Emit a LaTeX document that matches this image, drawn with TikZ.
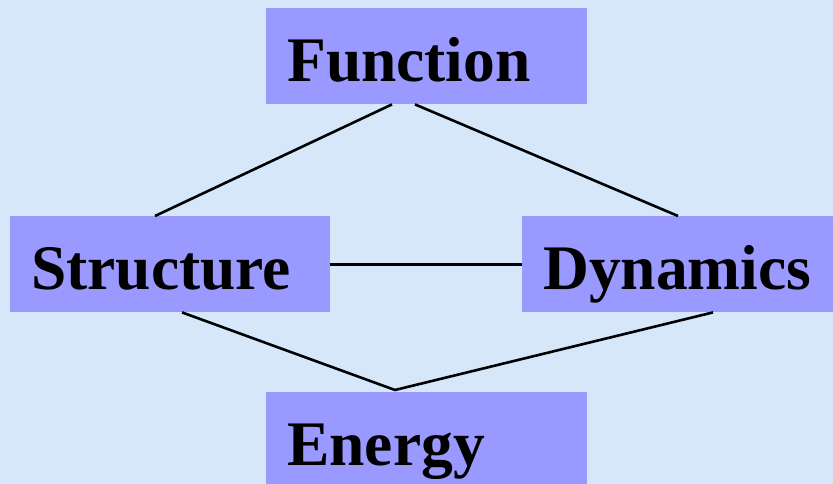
\documentclass[tikz,border=0pt]{standalone}
\usepackage{fontspec}
\setmainfont{Liberation Serif}
\usetikzlibrary{calc}
\definecolor{bgblue}{RGB}{214,231,250}
\definecolor{boxblue}{RGB}{153,153,255}
\begin{document}
\begin{tikzpicture}[x=1pt,y=1pt,
  conceptbox/.style={fill=boxblue, draw=none, anchor=north west, inner xsep=21pt, inner ysep=0pt,
    text height=73pt, text depth=23pt, align=left,
    font=\fontsize{63.5pt}{70pt}\selectfont\bfseries},
  link/.style={draw=black, line width=2.6pt}]
\fill[bgblue] (0,0) rectangle (833,-484);
\useasboundingbox (0,0) rectangle (833,-484);
\node[conceptbox, text width=279pt] (function) at (266,-8) {Function};
\node[conceptbox, text width=278pt] (structure) at (10,-216) {Structure};
\node[conceptbox, text width=290pt] (dynamics) at (522,-216) {Dynamics};
\node[conceptbox, text width=279pt] (energy) at (266,-392) {Energy};
\coordinate (fL) at ($(function.south west)+(126,0)$);
\coordinate (fR) at ($(function.south west)+(149,0)$);
\coordinate (sT) at ($(structure.north west)+(145,0)$);
\coordinate (sB) at ($(structure.south west)+(172,0)$);
\coordinate (dT) at ($(dynamics.north west)+(156,0)$);
\coordinate (dB) at ($(dynamics.south west)+(191,0)$);
\coordinate (eT) at ($(energy.north west)+(129,2)$);
\draw[link] (fL) -- (sT);
\draw[link] (fR) -- (dT);
\draw[link] (structure.east) -- (dynamics.west);
\draw[link] (sB) -- (eT) -- (dB);
\end{tikzpicture}
\end{document}
